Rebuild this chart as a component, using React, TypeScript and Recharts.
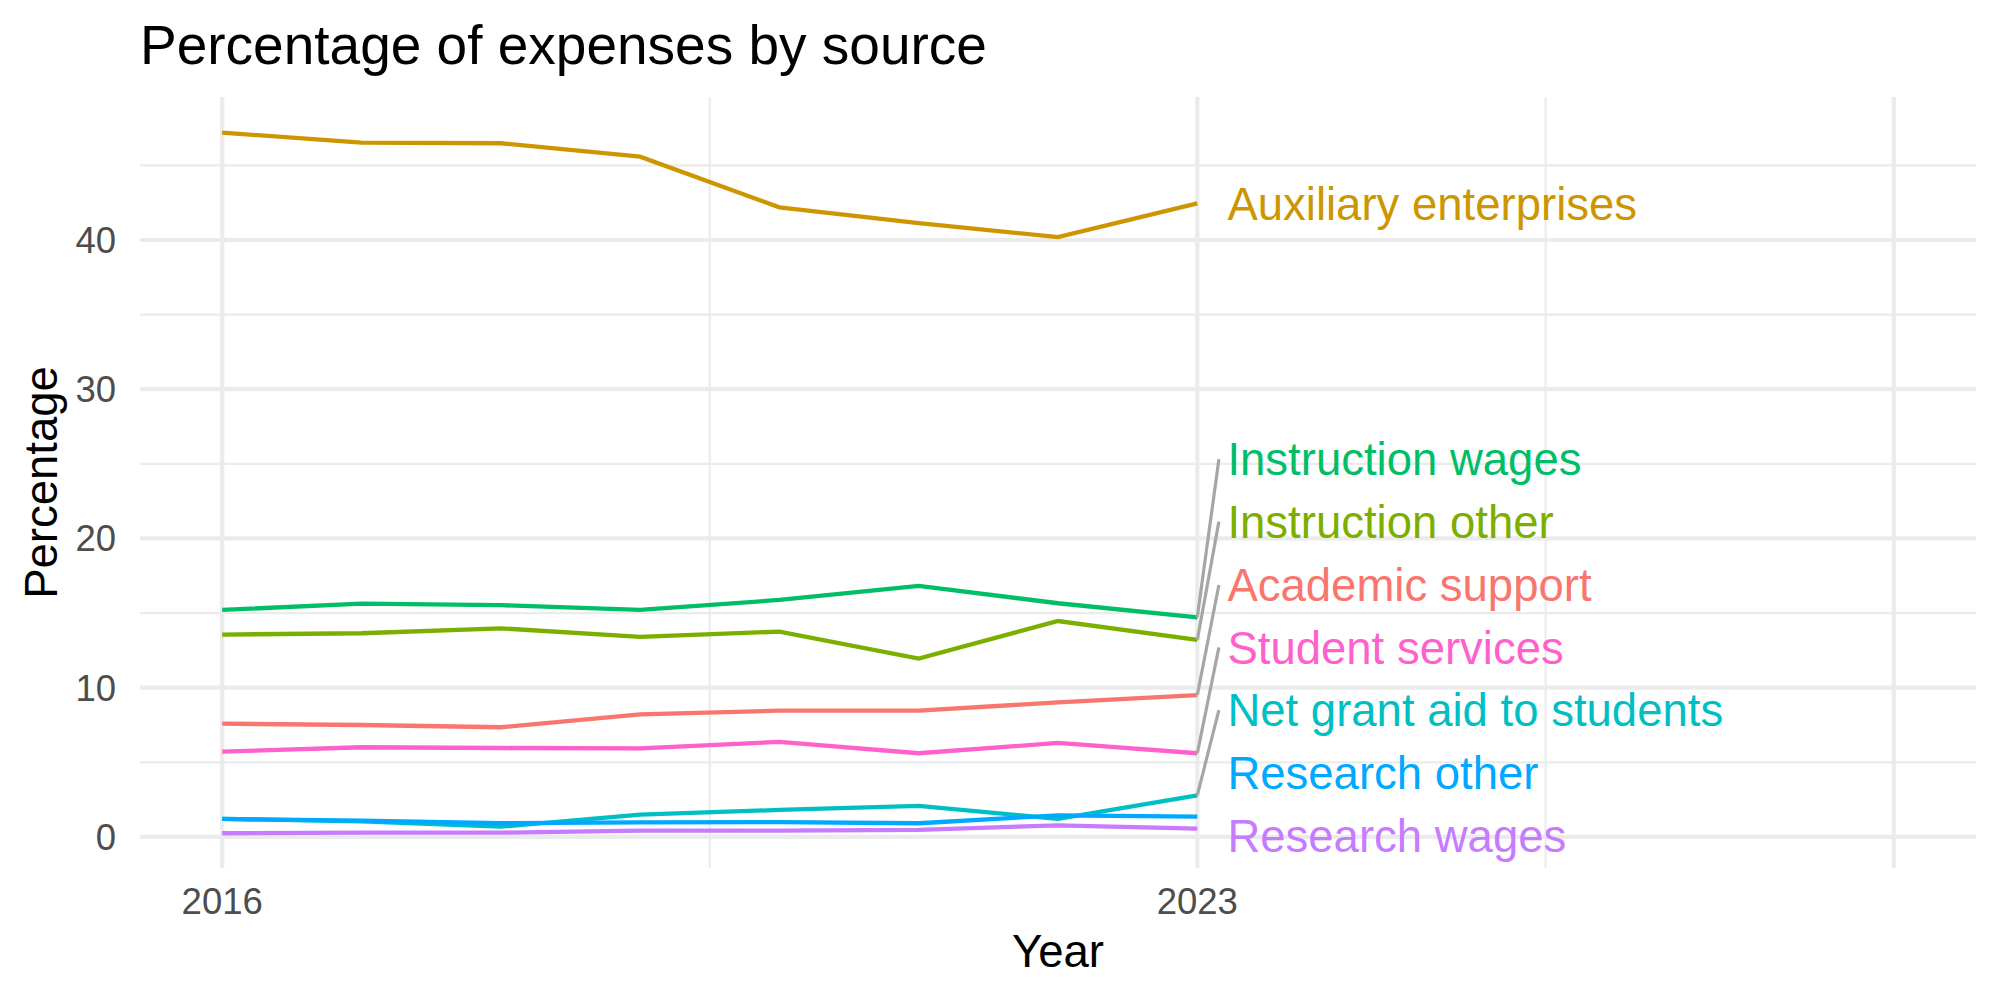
import { LineChart, Line, XAxis, YAxis, CartesianGrid, ReferenceLine, ReferenceDot } from 'recharts'

const years = [2016, 2017, 2018, 2019, 2020, 2021, 2022, 2023]

const academicSupport = [7.59, 7.5, 7.35, 8.22, 8.46, 8.46, 9.02, 9.51]
const auxiliaryEnterprises = [47.19, 46.52, 46.48, 45.58, 42.19, 41.13, 40.19, 42.45]
const instructionOther = [13.56, 13.65, 13.98, 13.4, 13.76, 11.95, 14.47, 13.2]
const instructionWages = [15.21, 15.63, 15.53, 15.21, 15.88, 16.82, 15.66, 14.72]
const netGrantAid = [1.21, 1.05, 0.69, 1.49, 1.81, 2.08, 1.21, 2.79]
const researchOther = [1.21, 1.09, 0.92, 0.98, 0.99, 0.92, 1.45, 1.36]
const researchWages = [0.25, 0.29, 0.29, 0.42, 0.42, 0.47, 0.78, 0.56]
const studentServices = [5.72, 6.01, 5.96, 5.94, 6.37, 5.61, 6.3, 5.61]

// where the repelled labels ended up (percentage units)
const labelY = [16.88, 42.45, 21.13, 25.31, 8.5, 4.27, 0.07, 12.7]
const hasSegment = [true, false, true, true, true, false, false, true]

const xDomain = [2015.41, 2028.59]
const yDomain = [-2.08, 49.58]
const xTicks = [2016, 2023]
const xMajor = [2016, 2023, 2028]
const xMinor = [2019.5, 2025.5]
const yTicks = [0, 10, 20, 30, 40]
const yMinor = [5, 15, 25, 35, 45]

const series = [
  { key: 'academic', name: 'Academic support', color: '#F8766D', values: academicSupport },
  { key: 'auxiliary', name: 'Auxiliary enterprises', color: '#CD9600', values: auxiliaryEnterprises },
  { key: 'instrOther', name: 'Instruction other', color: '#7CAE00', values: instructionOther },
  { key: 'instrWages', name: 'Instruction wages', color: '#00BE67', values: instructionWages },
  { key: 'netGrant', name: 'Net grant aid to students', color: '#00BFC4', values: netGrantAid },
  { key: 'resOther', name: 'Research other', color: '#00A9FF', values: researchOther },
  { key: 'resWages', name: 'Research wages', color: '#C77CFF', values: researchWages },
  { key: 'student', name: 'Student services', color: '#FF61CC', values: studentServices },
]

const data = years.map((year, i) => {
  const row: Record<string, number> = { year }
  series.forEach((s) => { row[s.key] = s.values[i] })
  return row
})

const FONT = '"Liberation Sans", Arial, Helvetica, sans-serif'
const LAST_YEAR = 2023
const labelX = 2023.216
const segEndX = 2023.155

// grid positions from the plot offset (same linear mapping as the axes)
const gridY = (vals: number[]) => ({ offset }: any) =>
  vals.map((v) => offset.top + ((yDomain[1] - v) / (yDomain[1] - yDomain[0])) * offset.height)
const gridX = (vals: number[]) => ({ offset }: any) =>
  vals.map((v) => offset.left + ((v - xDomain[0]) / (xDomain[1] - xDomain[0])) * offset.width)

export default function App() {
  return (
    <div style={{ position: 'absolute', left: 0, top: 0, width: 2000, height: 1000, background: '#fff' }}>
      <LineChart
        width={2000}
        height={1000}
        data={data}
        margin={{ top: 97, right: 24, bottom: 0, left: 0 }}
      >
        <CartesianGrid
          stroke="#EBEBEB"
          strokeWidth={2.1}
          horizontalCoordinatesGenerator={gridY(yMinor)}
          verticalCoordinatesGenerator={gridX(xMinor)}
        />
        <CartesianGrid
          stroke="#EBEBEB"
          strokeWidth={4.2}
          horizontalCoordinatesGenerator={gridY(yTicks)}
          verticalCoordinatesGenerator={gridX(xMajor)}
        />
        <XAxis
          dataKey="year"
          type="number"
          domain={xDomain}
          ticks={xTicks}
          axisLine={false}
          tickLine={false}
          tickSize={0}
          tickMargin={20}
          height={132}
          tick={{ fontSize: 36.5, fill: '#4D4D4D', fontFamily: FONT }}
        />
        <YAxis
          type="number"
          domain={yDomain}
          ticks={yTicks}
          axisLine={false}
          tickLine={false}
          tickSize={0}
          tickMargin={24}
          width={140}
          tick={{ fontSize: 36.5, fill: '#4D4D4D', fontFamily: FONT }}
        />
        {series.map((s) => (
          <Line
            key={s.key}
            type="linear"
            dataKey={s.key}
            stroke={s.color}
            strokeWidth={4.3}
            dot={false}
            isAnimationActive={false}
          />
        ))}
        {series.map((s, i) =>
          hasSegment[i] ? (
            <ReferenceLine
              key={'seg-' + s.key}
              segment={[
                { x: LAST_YEAR, y: s.values[s.values.length - 1] },
                { x: segEndX, y: labelY[i] },
              ]}
              stroke="#A6A6A6"
              strokeWidth={3.2}
            />
          ) : null
        )}
        {series.map((s, i) => (
          <ReferenceDot
            key={'lab-' + s.key}
            x={labelX}
            y={labelY[i]}
            r={0}
            shape={(p: any) => (
              <text
                x={p.cx}
                y={p.cy + 45.5 * 0.355}
                fill={s.color}
                fontSize={45.5}
                fontFamily={FONT}
                textAnchor="start"
              >
                {s.name}
              </text>
            )}
          />
        ))}
      </LineChart>
      <svg
        width={2000}
        height={1000}
        style={{ position: 'absolute', left: 0, top: 0, pointerEvents: 'none' }}
      >
        <text x={140} y={64} fontSize={55} fontFamily={FONT} fill="#000">
          Percentage of expenses by source
        </text>
        <text x={1058} y={967} fontSize={45.5} fontFamily={FONT} fill="#000" textAnchor="middle">
          Year
        </text>
        <text
          x={57}
          y={482.5}
          fontSize={45.5}
          fontFamily={FONT}
          fill="#000"
          textAnchor="middle"
          transform="rotate(-90 57 482.5)"
        >
          Percentage
        </text>
      </svg>
    </div>
  )
}
